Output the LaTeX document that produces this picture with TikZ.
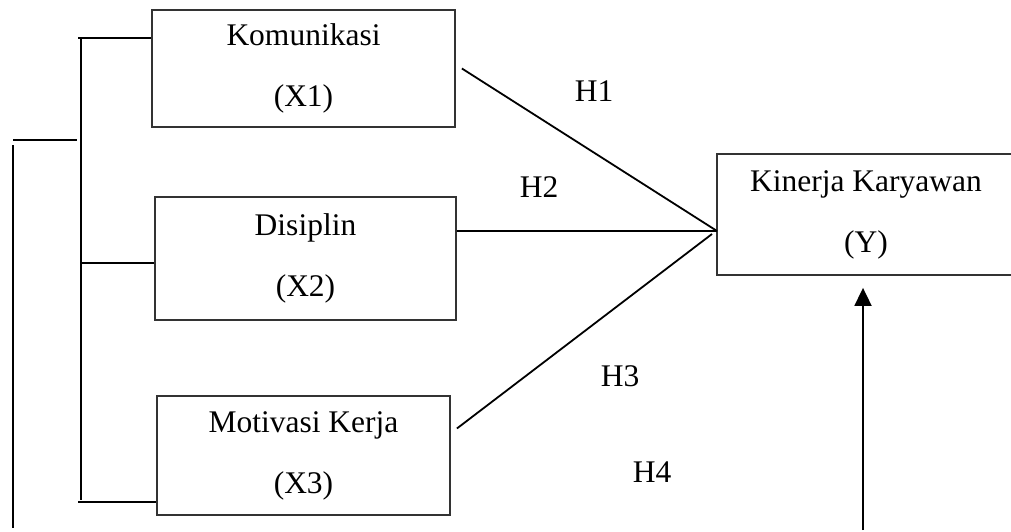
\documentclass[tikz,border=0pt]{standalone}
\usepackage{fontspec}
\setmainfont{Liberation Serif}
\usetikzlibrary{positioning, arrows.meta}
\tikzset{
    x=1pt, y=-1pt, % one unit is one pixel of the layout, y going down
    every picture/.style={line width=1.8pt}, % thickness of all lines
    var/.style={draw=black!80, rectangle, inner sep=0pt, align=center,
        font=\fontsize{31.5}{61}\selectfont}, % the boxes of the variables
    hyp/.style={font=\fontsize{31.5}{38}\selectfont}, % the labels H1 ... H4
    toy/.style={-{Triangle[width=17pt,length=18pt]}}, % the arrow into Y
}

\begin{document}
\begin{tikzpicture}
                            \useasboundingbox (0,0) rectangle (1011,532);
                            \node[var, minimum width=303pt, minimum height=117pt] (x1) at (303.5,68.5) {Komunikasi\\(X1)};
                            \node[var, minimum width=301pt, minimum height=123pt] (x2) at (305.5,258.5) {Disiplin\\(X2)};
                            \node[var, minimum width=293pt, minimum height=119pt] (x3) at (303.5,455.5) {Motivasi Kerja\\(X3)};
                            \node[var, minimum width=298pt, minimum height=121pt] (y) at (866,214.5) {Kinerja Karyawan\\(Y)};
                            \node[hyp] (h1) at (594,91) {H1};
                            \node[hyp] (h2) at (539,187) {H2};
                            \node[hyp] (h3) at (620,376) {H3};
                            \node[hyp] (h4) at (652,472) {H4};
                            \coordinate (hub) at (717,231);
                            \coordinate (spinetop) at (81,38);
                            \coordinate (spinemid) at (81,263);
                            \coordinate (spinebot) at (81,500);
                            \coordinate (outertop) at (13,140);
                            \coordinate (outerbot) at (13,528);
                            \coordinate (ybot) at (863,530);
                            \draw
                            ([xshift=6pt]x1.east) -- (hub)
                            (x2.east |- hub) -- (hub)
                            ([xshift=6pt, yshift=27pt]x3.east) -- ([xshift=-5pt, yshift=-3pt]hub);
                            \draw
                            (spinetop) -- (spinebot)
                            ([xshift=-3pt]spinetop) -- (x1.west |- spinetop)
                            (spinemid) -- (x2.west |- spinemid)
                            ([xshift=-3pt, yshift=-2pt]spinebot) -- ([yshift=-2pt]x3.west |- spinebot)
                            (outertop) -- ([xshift=64pt]outertop)
                            ([yshift=-5pt]outertop) -- (outerbot);
                            \draw[toy] (ybot) -- ([yshift=-12pt]ybot |- y.south);
                        \end{tikzpicture}
\end{document}
